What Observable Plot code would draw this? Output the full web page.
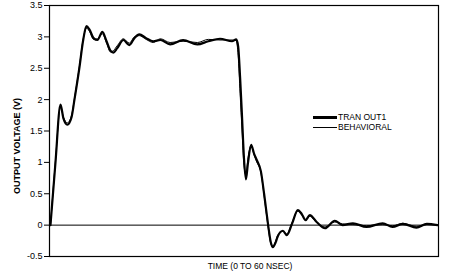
<!DOCTYPE html>
<html>
<head>
<meta charset="utf-8">
<script src="https://cdn.jsdelivr.net/npm/d3@7"></script>
<script src="https://cdn.jsdelivr.net/npm/@observablehq/plot@0.6"></script>
<style>
  html, body { margin: 0; padding: 0; background: #fff; }
  #wrap { position: relative; width: 456px; height: 276px; font-family: "Liberation Sans", Arial, sans-serif; }
  #legend { position: absolute; left: 313px; top: 112px; font-size: 8.5px; color: #000; line-height: 10px; }
  .row { display: flex; align-items: center; height: 10px; }
  .sw { width: 24px; margin-right: 1px; background: #000; }
</style>
</head>
<body>
<div id="wrap"><div id="legend"></div></div>
<script>
const timeNs = [0.15, 0.9, 1.7, 2.15, 2.75, 3.4, 3.85, 4.6, 5.2, 5.7, 6.15, 6.8, 7.4, 8.15, 8.8, 9.4, 9.85, 10.45, 11.4, 12.3, 13.1, 13.85, 14.9, 16, 17.1, 18.6, 20.6, 22.8, 24.5, 26.3, 28.15, 28.8, 29.1, 29.4, 29.7, 30, 30.3, 30.6, 31.1, 31.55, 32, 32.6, 33.1, 33.4, 33.7, 34.15, 34.45, 34.9, 35.2, 36, 36.6, 37.4, 38.3, 38.9, 39.5, 40.15, 41.2, 42.5, 44, 45.2, 46.8, 48.9, 51.4, 52.9, 54.5, 56.6, 58.2, 59.85];
const tranOut1 = [0, 0.97, 1.92, 1.7, 1.6, 1.72, 2.0, 2.5, 2.95, 3.17, 3.12, 2.98, 2.95, 3.08, 2.93, 2.78, 2.75, 2.82, 2.95, 2.87, 2.98, 3.04, 2.98, 2.93, 2.95, 2.88, 2.95, 2.88, 2.93, 2.97, 2.93, 2.96, 2.85, 2.35, 1.72, 1.06, 0.73, 0.98, 1.28, 1.14, 1.03, 0.86, 0.5, 0.26, 0.02, -0.28, -0.35, -0.27, -0.18, -0.09, -0.16, 0.02, 0.24, 0.18, 0.08, 0.16, 0.05, -0.05, 0.07, 0, 0.03, -0.03, 0.03, -0.03, 0.02, -0.04, 0.02, 0];
const behavioral = [0, 1.0, 1.88, 1.72, 1.63, 1.75, 2.02, 2.52, 2.97, 3.14, 3.09, 2.96, 2.97, 3.05, 2.9, 2.76, 2.78, 2.86, 2.97, 2.9, 3.0, 3.02, 2.96, 2.91, 2.97, 2.91, 2.93, 2.91, 2.96, 2.95, 2.95, 2.94, 2.7, 2.1, 1.5, 0.95, 0.8, 1.05, 1.27, 1.12, 1.0, 0.84, 0.47, 0.22, -0.02, -0.3, -0.34, -0.25, -0.16, -0.1, -0.14, 0.04, 0.22, 0.16, 0.09, 0.14, 0.04, -0.03, 0.05, 0.02, 0.01, -0.01, 0.01, -0.01, 0.03, -0.02, 0.01, 0];
const yTicks = [-0.5, 0, 0.5, 1, 1.5, 2, 2.5, 3, 3.5];
const yTickLabels = ["-0.5", "0", "0.5", "1", "1.5", "2", "2.5", "3", "3.5"];
const seriesNames = ["TRAN OUT1", "BEHAVIORAL"];
const xLabel = "TIME (0 TO 60 NSEC)";
const yLabel = "OUTPUT VOLTAGE (V)";

const tranData = timeNs.map((t, i) => ({t, v: tranOut1[i]}));
const behData = timeNs.map((t, i) => ({t, v: behavioral[i]}));

const chart = Plot.plot({
  width: 456,
  height: 276,
  marginLeft: 49,
  marginRight: 18,
  marginTop: 5,
  marginBottom: 20,
  style: {fontFamily: '"Liberation Sans", Arial, sans-serif', fontSize: "9px", background: "#fff", color: "#000"},
  x: {domain: [0, 60], axis: null},
  y: {domain: [-0.5, 3.5], axis: null},
  marks: [
    Plot.frame({stroke: "#000", strokeWidth: 1.2}),
    Plot.ruleY([0], {stroke: "#000", strokeWidth: 1}),
    Plot.axisY({ticks: yTicks, tickSize: 5, tickPadding: 2, tickFormat: (d) => yTickLabels[yTicks.indexOf(d)], label: null, fontSize: 9}),
    Plot.line(tranData, {x: "t", y: "v", stroke: "#000", strokeWidth: 2.2, curve: "monotone-x"}),
    Plot.line(behData, {x: "t", y: "v", stroke: "#000", strokeWidth: 1, curve: "monotone-x"}),
    Plot.text([yLabel], {frameAnchor: "left", textAnchor: "middle", rotate: -90, dx: -32, dy: 15, fontSize: 9, fontWeight: "bold", fill: "#000"}),
    Plot.text([xLabel], {frameAnchor: "bottom", dx: 6, dy: 12, fontSize: 8.5, fill: "#000"})
  ]
});
document.getElementById("wrap").prepend(chart);

const legend = document.getElementById("legend");
seriesNames.forEach((name, i) => {
  const row = document.createElement("div");
  row.className = "row";
  const sw = document.createElement("div");
  sw.className = "sw";
  sw.style.height = i === 0 ? "3px" : "1px";
  const label = document.createElement("span");
  label.textContent = name;
  row.appendChild(sw);
  row.appendChild(label);
  legend.appendChild(row);
});
</script>
</body>
</html>
